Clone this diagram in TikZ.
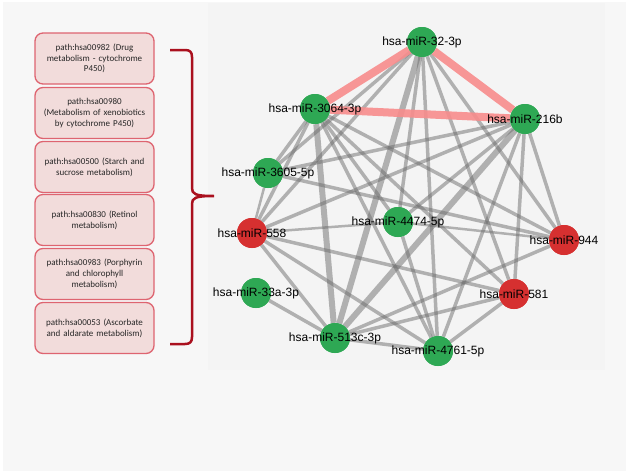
\documentclass[tikz,border=0pt]{standalone}
\usepackage{fontspec}
\setmainfont{Liberation Sans}
\newfontfamily\boxfont{Carlito}
\definecolor{bgout}{RGB}{247,247,247}
\definecolor{bgpanel}{RGB}{244,244,244}
\definecolor{mgreen}{RGB}{46,168,84}
\definecolor{mred}{RGB}{214,48,48}
\definecolor{edgegray}{RGB}{110,110,110}
\definecolor{edgered}{RGB}{248,140,140}
\definecolor{boxfill}{RGB}{242,220,219}
\definecolor{boxdraw}{RGB}{222,100,112}
\definecolor{bracecol}{RGB}{170,16,30}
\begin{document}
\begin{tikzpicture}[x=1pt,y=-1pt,
 mirna/.style={circle,minimum size=30pt,inner sep=0pt},
 upreg/.style={mirna,fill=mgreen},
 downreg/.style={mirna,fill=mred},
 lbl/.style={font=\fontsize{12}{14}\selectfont,text=black,inner sep=0pt},
 pathbox/.style={draw=boxdraw,line width=1.3pt,fill=boxfill,rounded corners=8pt,minimum width=119pt,minimum height=51pt,text width=116pt,align=center,inner sep=0pt,font=\boxfont\fontsize{9}{10.8}\selectfont,text=black!85},
 ge/.style={draw=edgegray,draw opacity=0.5,line width=3.5pt},
 gthin/.style={ge,line width=2.5pt},
 gthick/.style={ge,line width=6pt},
 re/.style={draw=edgered,line width=8pt,draw opacity=0.9}
]
\useasboundingbox (0,0) rectangle (630,474);
\fill[white] (0,0) rectangle (630,474);
\fill[bgout] (3,2) rectangle (626,471);
\fill[bgpanel] (208,3) rectangle (605,370);

% nodes (positions)
\node[upreg] (A) at (422,42) {};
\node[upreg] (B) at (315,109) {};
\node[upreg] (C) at (525,119) {};
\node[upreg] (D) at (268,173) {};
\node[downreg] (E) at (252,233) {};
\node[upreg] (F) at (398,222) {};
\node[downreg] (G) at (564,240) {};
\node[downreg] (H) at (514,294) {};
\node[upreg] (I) at (256,293) {};
\node[upreg] (J) at (335,338) {};
\node[upreg] (K) at (438,351) {};

% gray edges
\draw[gthick] (A) -- (J);
\draw[gthick] (B) -- (J);
\draw[gthick] (C) -- (J);
\foreach \s/\t in {A/D,A/E,A/F,A/K,A/H,A/G,B/D,B/E,B/F,B/K,B/H,B/G,C/D,C/E,C/F,C/K,C/H,C/G,D/G,E/H,E/J,E/K,F/K,G/J,H/J,H/K,J/K,I/J}
  \draw[ge] (\s) -- (\t);
\foreach \s/\t in {D/E,E/F,F/G}
  \draw[gthin] (\s) -- (\t);
\draw[re] (A) -- (B);
\draw[re] (A) -- (C);
\draw[re] (B) -- (C);

% redraw nodes on top
\foreach \n/\c in {A/mgreen,B/mgreen,C/mgreen,D/mgreen,E/mred,F/mgreen,G/mred,H/mred,I/mgreen,J/mgreen,K/mgreen}
  \fill[\c] (\n.center) circle (15pt);

% labels
\node[lbl] (Al) at (A) {hsa-miR-32-3p};
\node[lbl] (Bl) at (B) {hsa-miR-3064-3p};
\node[lbl] (Cl) at (C) {hsa-miR-216b};
\node[lbl] (Dl) at (D) {hsa-miR-3605-5p};
\node[lbl] (El) at (E) {hsa-miR-558};
\node[lbl] (Fl) at (F) {hsa-miR-4474-5p};
\node[lbl] (Gl) at (G) {hsa-miR-944};
\node[lbl] (Hl) at (H) {hsa-miR-581};
\node[lbl] (Il) at (I) {hsa-miR-33a-3p};
\node[lbl] (Jl) at (J) {hsa-miR-513c-3p};
\node[lbl] (Kl) at (K) {hsa-miR-4761-5p};

% pathway boxes
\node[pathbox] (p1) at (94.5,58.5) {path:hsa00982 (Drug\\metabolism - cytochrome\\P450)};
\node[pathbox] (p2) at (94.5,113) {path:hsa00980\\(Metabolism of xenobiotics\\by cytochrome P450)};
\node[pathbox] (p3) at (94.5,167) {path:hsa00500 (Starch and\\sucrose metabolism)};
\node[pathbox] (p4) at (94.5,220) {path:hsa00830 (Retinol\\metabolism)};
\node[pathbox] (p5) at (94.5,274) {path:hsa00983 (Porphyrin\\and chlorophyll\\metabolism)};
\node[pathbox] (p6) at (94.5,328) {path:hsa00053 (Ascorbate\\and aldarate metabolism)};

% brace
\draw[bracecol,line width=2.5pt,line join=round]
  (170,50) -- (185,50) .. controls (190,50) and (192,52) .. (192,57)
  -- (192,188) .. controls (192,194) and (195,196) .. (214,196)
  (214,196) .. controls (195,196) and (192,198) .. (192,204)
  -- (192,337) .. controls (192,342) and (190,344) .. (185,344) -- (170,344);
\end{tikzpicture}
\end{document}
